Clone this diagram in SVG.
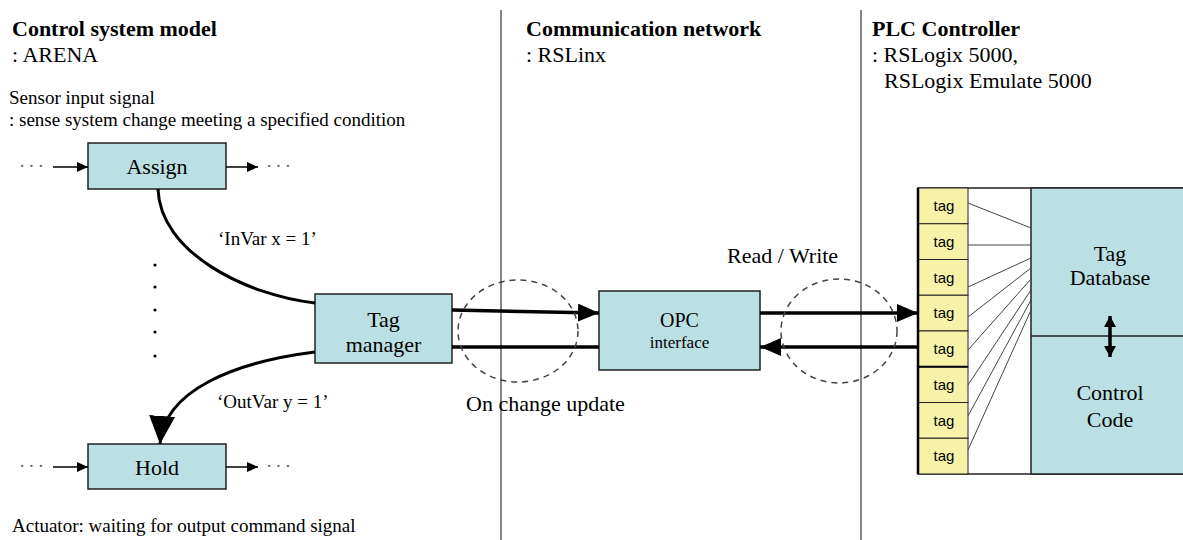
<svg xmlns="http://www.w3.org/2000/svg" width="1183" height="540" viewBox="0 0 1183 540">
<style>
text{font-family:'Liberation Serif','DejaVu Serif','Noto Serif',serif;fill:#000}
.h{font-size:22px;font-weight:bold}
.s22{font-size:22px}
.s19{font-size:19px}
.node{fill:#bbe0e3;stroke:#222;stroke-width:1.5}
.tagc{fill:#f6f3a9;stroke:#222;stroke-width:1}
text.tagt{font-family:'Liberation Sans',Arial,sans-serif;font-size:15px;text-anchor:middle}
.thin{stroke:#444;stroke-width:1;fill:none}
.thick{stroke:#000;stroke-width:3.5;fill:none}
.curve{stroke:#000;stroke-width:3;fill:none}
.sm{stroke:#000;stroke-width:1.5;fill:none}
.dash{fill:none;stroke:#444;stroke-width:1.5;stroke-dasharray:6,5}
text.dots{font-size:19px;fill:#666}
.div{stroke:#333;stroke-width:1.2}
</style>
<defs>
<marker id="big" markerUnits="userSpaceOnUse" markerWidth="22" markerHeight="18" refX="21" refY="9" orient="auto"><path d="M0,0 L21,9 L0,18 z" fill="#000"/></marker>
<marker id="huge" markerUnits="userSpaceOnUse" markerWidth="30" markerHeight="26" refX="28" refY="13" orient="auto"><path d="M0,0 L28,13 L0,26 z" fill="#000"/></marker>
<marker id="small" markerUnits="userSpaceOnUse" markerWidth="12" markerHeight="10" refX="11" refY="5" orient="auto"><path d="M0,0 L11,5 L0,10 z" fill="#000"/></marker>
<marker id="dbl" markerUnits="userSpaceOnUse" markerWidth="12" markerHeight="12" refX="11" refY="6" orient="auto-start-reverse"><path d="M0,0 L11,6 L0,12 z" fill="#000"/></marker>
</defs>
<rect width="1183" height="540" fill="#fff"/>

<g id="dividers">
<line class="div" x1="501" y1="10" x2="501" y2="540"/>
<line class="div" x1="861" y1="10" x2="861" y2="540"/>
</g>

<g id="headers" font-family="Liberation Serif, serif">
<text class="h" x="12" y="36">Control system model</text>
<text class="s22" x="12" y="62">: ARENA</text>
<text class="s19" x="9" y="104">Sensor input signal</text>
<text class="s19" x="9" y="126">: sense system change meeting a specified condition</text>
<text class="h" x="526" y="36">Communication network</text>
<text class="s22" x="526" y="62">: RSLinx</text>
<text class="h" x="872" y="36">PLC Controller</text>
<text class="s22" x="872" y="62">: RSLogix 5000,</text>
<text class="s22" x="884" y="88">RSLogix Emulate 5000</text>
<text class="s19" x="12" y="532">Actuator: waiting for output command signal</text>
</g>

<g id="plc">
<rect x="918" y="188" width="280" height="286" fill="#fff" stroke="#222" stroke-width="1.5"/>
<rect x="1031" y="188" width="167" height="286" fill="#bbe0e3" stroke="#222" stroke-width="1.5"/>
<line x1="1031" y1="336" x2="1198" y2="336" stroke="#222" stroke-width="1.5"/>
<text class="s22" x="1110" y="261" text-anchor="middle">Tag</text>
<text class="s22" x="1110" y="285" text-anchor="middle">Database</text>
<text class="s22" x="1110" y="400" text-anchor="middle">Control</text>
<text class="s22" x="1110" y="427" text-anchor="middle">Code</text>
<line x1="1110" y1="316" x2="1110" y2="357" stroke="#000" stroke-width="3.5" marker-start="url(#dbl)" marker-end="url(#dbl)"/>
</g>

<g id="tags">
<rect class="tagc" x="918" y="188" width="50" height="35.75"/>
<rect class="tagc" x="918" y="223.75" width="50" height="35.75"/>
<rect class="tagc" x="918" y="259.5" width="50" height="35.75"/>
<rect class="tagc" x="918" y="295.25" width="50" height="35.75"/>
<rect class="tagc" x="918" y="331" width="50" height="35.75"/>
<rect class="tagc" x="918" y="366.75" width="50" height="35.75"/>
<rect class="tagc" x="918" y="402.5" width="50" height="35.75"/>
<rect class="tagc" x="918" y="438.25" width="50" height="35.75"/>
<line x1="918" y1="188" x2="918" y2="474" stroke="#000" stroke-width="2.5"/>
<line x1="918" y1="366.75" x2="968" y2="366.75" stroke="#000" stroke-width="2"/>
<text class="tagt" x="944" y="211">tag</text>
<text class="tagt" x="944" y="246.75">tag</text>
<text class="tagt" x="944" y="282.5">tag</text>
<text class="tagt" x="944" y="318.25">tag</text>
<text class="tagt" x="944" y="354">tag</text>
<text class="tagt" x="944" y="389.75">tag</text>
<text class="tagt" x="944" y="425.5">tag</text>
<text class="tagt" x="944" y="461.25">tag</text>
</g>

<g id="tag-links">
<line class="thin" x1="968" y1="203" x2="1031" y2="228"/>
<line class="thin" x1="968" y1="245" x2="1031" y2="245"/>
<line class="thin" x1="968" y1="287" x2="1031" y2="258"/>
<line class="thin" x1="968" y1="317" x2="1031" y2="268"/>
<line class="thin" x1="968" y1="350" x2="1031" y2="279"/>
<line class="thin" x1="968" y1="385" x2="1031" y2="290"/>
<line class="thin" x1="968" y1="416" x2="1031" y2="300"/>
<line class="thin" x1="968" y1="450" x2="1031" y2="310"/>
</g>

<g id="assign">
<rect class="node" x="88" y="143" width="138" height="46"/>
<text class="s22" x="157" y="174" text-anchor="middle">Assign</text>
</g>
<g id="hold">
<rect class="node" x="88" y="444" width="138" height="45"/>
<text class="s22" x="157" y="475" text-anchor="middle">Hold</text>
</g>
<g id="tag-manager">
<rect class="node" x="315" y="294" width="137" height="69"/>
<text class="s22" x="383.5" y="327" text-anchor="middle">Tag</text>
<text class="s22" x="383.5" y="352" text-anchor="middle">manager</text>
</g>
<g id="opc">
<rect class="node" x="599" y="291" width="161" height="79"/>
<text x="679.5" y="327" text-anchor="middle" font-size="20">OPC</text>
<text x="679.5" y="348" text-anchor="middle" font-size="17">interface</text>
</g>

<g id="connectors">
<line class="sm" x1="53" y1="167" x2="88" y2="167" marker-end="url(#small)"/>
<line class="sm" x1="226" y1="167" x2="258" y2="167" marker-end="url(#small)"/>
<line class="sm" x1="53" y1="467" x2="88" y2="467" marker-end="url(#small)"/>
<line class="sm" x1="226" y1="467" x2="258" y2="467" marker-end="url(#small)"/>
<path class="curve" d="M158,189 C160,252 245,295 315,303"/>
<path class="curve" d="M315,352 C235,362 164,390 160,444" marker-end="url(#huge)"/>
<line class="thick" x1="452" y1="310" x2="599" y2="313" marker-end="url(#big)"/>
<line class="thick" x1="599" y1="347" x2="452" y2="347"/>
<line class="thick" x1="760" y1="313" x2="918" y2="313" marker-end="url(#big)"/>
<line class="thick" x1="918" y1="347" x2="760" y2="347" marker-end="url(#big)"/>
</g>

<g id="annotations">
<text class="dots" x="19" y="172" letter-spacing="3">···</text>
<text class="dots" x="266" y="172" letter-spacing="3">···</text>
<text class="dots" x="19" y="472" letter-spacing="3">···</text>
<text class="dots" x="266" y="472" letter-spacing="3">···</text>
<circle cx="155" cy="265" r="1.6" fill="#000"/>
<circle cx="155" cy="287" r="1.6" fill="#000"/>
<circle cx="155" cy="310" r="1.6" fill="#000"/>
<circle cx="155" cy="332" r="1.6" fill="#000"/>
<circle cx="155" cy="356" r="1.6" fill="#000"/>
<text class="s19" x="218" y="245">‘InVar x = 1’</text>
<text class="s19" x="217" y="408">‘OutVar y = 1’</text>
<ellipse class="dash" cx="518" cy="331" rx="60" ry="51"/>
<ellipse class="dash" cx="839" cy="331" rx="58" ry="52"/>
<text class="s22" x="727" y="263">Read / Write</text>
<text class="s22" x="466" y="411">On change update</text>
</g>
</svg>
